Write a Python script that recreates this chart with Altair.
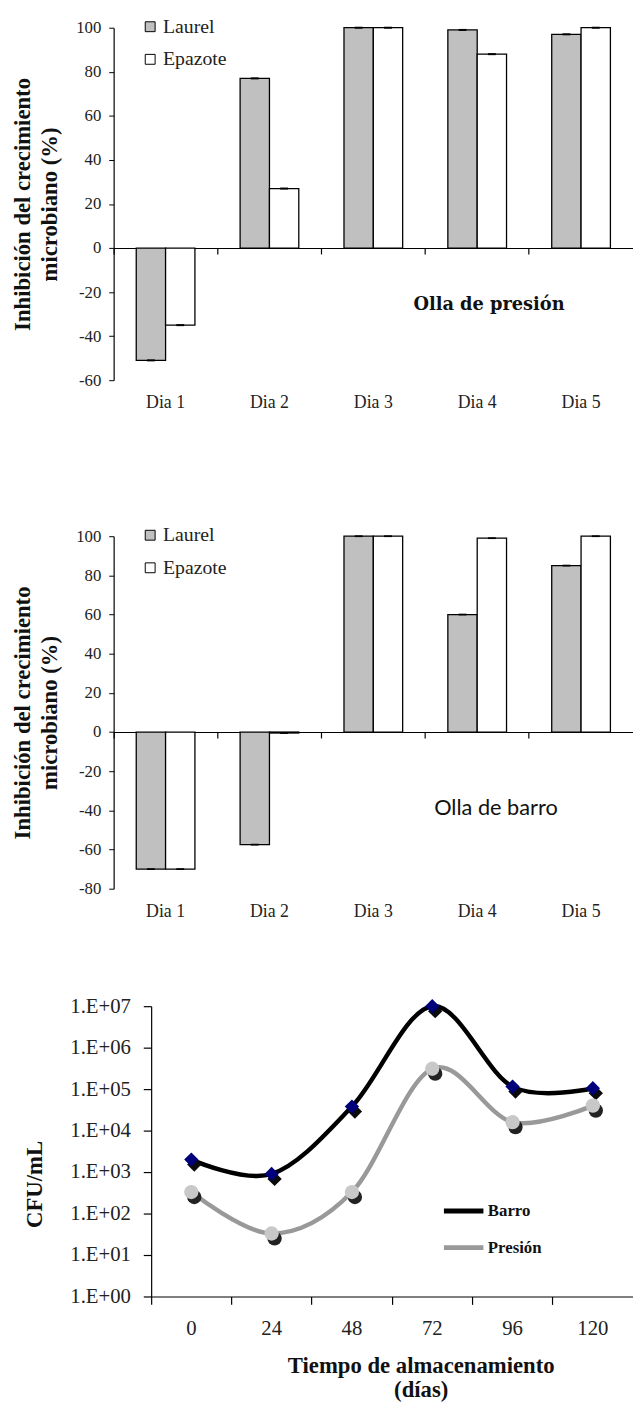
import altair as alt
import pandas as pd

# ---------------- data ----------------
days = ["Dia 1", "Dia 2", "Dia 3", "Dia 4", "Dia 5"]
series = ["Laurel", "Epazote"]
laurel_presion = [-51, 77, 100, 99, 97]
epazote_presion = [-35, 27, 100, 88, 100]
laurel_barro = [-70, -57.5, 100, 60, 85]
epazote_barro = [-70, -0.5, 100, 99, 100]

horas = ["0", "24", "48", "72", "96", "120"]
line_series = ["Barro", "Presión"]
cfu_barro = [2000, 900, 38000, 10000000, 115000, 105000]
cfu_presion = [330, 33, 330, 310000, 16000, 40000]

SERIF = "Liberation Serif"
MINUS_EXPR = "(datum.value < 0 ? '-' : '') + abs(datum.value)"


def bar_panel(laurel, epazote, ymin, note, note_value, note_font, note_size,
              note_weight, note_dx):
    df = pd.DataFrame({
        "dia": days * 2,
        "serie": [series[0]] * len(days) + [series[1]] * len(days),
        "valor": laurel + epazote,
    })
    df["lo"] = df["valor"] - 0.45
    df["hi"] = df["valor"] + 0.45
    W, H = 526, 357
    zero_off = -H * (0 - ymin) / (100 - ymin)
    xscale = alt.Scale(type="band", domain=days, paddingInner=0, paddingOuter=0)

    def xenc(axis, **kw):
        return alt.X("dia:N", scale=xscale, sort=days, axis=axis, **kw)

    xoff = alt.XOffset("serie:N", sort=series,
                       scale=alt.Scale(domain=series, paddingInner=0, paddingOuter=0.77))
    yscale = alt.Scale(domain=[ymin, 100], nice=False, zero=False)
    yvals = list(range(ymin, 101, 20))
    yaxis = alt.Axis(values=yvals, tickCount=30, labelOverlap=False,
                     labelExpr=MINUS_EXPR,
                     title=["Inhibición del crecimiento", "microbiano (%)"],
                     titleFont=SERIF, titleFontSize=23, titleFontWeight="bold",
                     titleLineHeight=28, titlePadding=14, titleColor="#111",
                     labelFont=SERIF, labelFontSize=17, labelColor="#222",
                     labelPadding=8, tickSize=5, tickColor="black",
                     domainColor="black", domainWidth=1.2, grid=False)
    label_axis = alt.Axis(orient="bottom", domain=False, ticks=False, tickSize=0,
                          labelPadding=14, labelFont=SERIF, labelFontSize=18,
                          labelColor="#222", labelAngle=0, title=None, grid=False)
    tick_axis = alt.Axis(orient="bottom", offset=zero_off, labels=False, ticks=True,
                         tickSize=6, tickColor="black", tickWidth=1.2, bandPosition=0,
                         domain=True, domainColor="black", domainWidth=1.2,
                         title=None, grid=False)

    bars = alt.Chart(df).mark_bar(stroke="black", strokeWidth=1.3).encode(
        x=xenc(label_axis),
        xOffset=xoff,
        y=alt.Y("valor:Q", scale=yscale, axis=yaxis),
        fill=alt.Fill("serie:N", sort=series,
                      scale=alt.Scale(domain=series, range=["#c0c0c0", "#ffffff"]),
                      legend=alt.Legend(orient="none", legendX=27, legendY=-11,
                                        title=None, symbolType="square",
                                        symbolSize=100, symbolStrokeColor="black",
                                        symbolStrokeWidth=1, labelFont=SERIF,
                                        labelFontSize=20, labelColor="#222",
                                        rowPadding=13, padding=0, labelOffset=3)),
    )
    caps = alt.Chart(df).mark_bar(color="black", width=8).encode(
        x=xenc(tick_axis),
        xOffset=xoff,
        y=alt.Y("lo:Q", scale=yscale),
        y2="hi:Q",
    )
    note_df = pd.DataFrame({"dia": ["Dia 4"], "valor": [note_value], "t": [note]})
    text = alt.Chart(note_df).mark_text(font=note_font, fontSize=note_size,
                                        fontWeight=note_weight, dx=note_dx,
                                        color="#111").encode(
        x=xenc(None, bandPosition=0.5),
        y=alt.Y("valor:Q", scale=yscale),
        text="t:N",
    )
    return alt.layer(bars, caps, text).resolve_axis(x="independent").properties(
        width=W, height=H)


c1 = bar_panel(laurel_presion, epazote_presion, -60, "Olla de presión", -26,
               "DejaVu Serif", 18, "bold", 12)
c2 = bar_panel(laurel_barro, epazote_barro, -80, "Olla de barro", -39,
               "Lato", 22, "normal", 19)

# ---------------- line chart ----------------
df3 = pd.DataFrame({
    "hora": horas * 2,
    "serie": [line_series[0]] * len(horas) + [line_series[1]] * len(horas),
    "cfu": cfu_barro + cfu_presion,
})
W3, H3 = 488, 294
xs3 = alt.Scale(type="band", domain=horas, paddingInner=0, paddingOuter=0)
ys3 = alt.Scale(type="log", domain=[1, 10000000], nice=False)

label_axis3 = alt.Axis(orient="bottom", domain=False, ticks=False, tickSize=0,
                       labelPadding=22, labelFont=SERIF, labelFontSize=21,
                       labelColor="#222", labelAngle=0,
                       title=["Tiempo de almacenamiento", "(días)"],
                       titleFont=SERIF, titleFontWeight="bold", titleFontSize=23,
                       titleLineHeight=24, titlePadding=16, titleColor="#111",
                       titleX=273, grid=False)
tick_axis3 = alt.Axis(orient="bottom", labels=False, ticks=True, tickSize=8,
                      tickColor="black", tickWidth=1.2, bandPosition=0, domain=True,
                      domainColor="black", domainWidth=1.2, title=None, grid=False)
yaxis3 = alt.Axis(values=[1, 10, 100, 1000, 10000, 100000, 1000000, 10000000],
                  tickCount=30,
                  labelExpr="'1.E+0' + round(log(datum.value)/LN10)",
                  labelOverlap=False,
                  labelFont=SERIF, labelFontSize=21, labelColor="#222",
                  labelPadding=13, tickSize=8, tickColor="black", tickWidth=1.2,
                  domainColor="black", domainWidth=1.2,
                  title="CFU/mL", titleFont=SERIF, titleFontSize=23,
                  titleFontWeight="bold", titleColor="#111", titlePadding=24,
                  titleY=180, grid=False)


def xenc3(axis):
    return alt.X("hora:N", scale=xs3, sort=horas, axis=axis, bandPosition=0.5)


lines = alt.Chart(df3).mark_line(strokeWidth=4.5, interpolate="cardinal").encode(
    x=xenc3(label_axis3),
    y=alt.Y("cfu:Q", scale=ys3, axis=yaxis3),
    stroke=alt.Stroke("serie:N", sort=line_series,
                      scale=alt.Scale(domain=line_series, range=["#000000", "#999999"]),
                      legend=alt.Legend(orient="none", legendX=332, legendY=185,
                                        title=None, symbolType="stroke",
                                        symbolSize=1600, symbolStrokeWidth=5,
                                        labelFont=SERIF, labelFontSize=17,
                                        labelFontWeight="bold", labelColor="#111",
                                        rowPadding=4, padding=0, labelOffset=2)),
)


def marker_layers(name, shape, fill, shadow, with_axis):
    base = alt.Chart(df3).transform_filter(alt.datum.serie == name)
    sh = base.mark_point(filled=True, opacity=1, size=210, shape=shape, color=shadow,
                         xOffset=3, yOffset=5).encode(
        x=xenc3(tick_axis3 if with_axis else None),
        y=alt.Y("cfu:Q", scale=ys3),
    )
    pt = base.mark_point(filled=True, opacity=1, size=210, shape=shape, color=fill,
                         strokeWidth=0).encode(
        x=xenc3(None),
        y=alt.Y("cfu:Q", scale=ys3),
    )
    return [sh, pt]


mk_b = marker_layers("Barro", "diamond", "#00007a", "#0a0a0a", True)
mk_p = marker_layers("Presión", "circle", "#c8c8c8", "#222222", False)

c3 = alt.layer(lines, mk_b[0], mk_p[0], mk_b[1], mk_p[1]).resolve_axis(
    x="independent").properties(width=W3, height=H3)

spacer = alt.Chart(pd.DataFrame({"s": [0]})).mark_point(opacity=0).encode(
    x=alt.value(0), y=alt.value(0)).properties(width=38, height=H3)
row3 = alt.hconcat(spacer, c3, spacing=0, bounds="flush")

top = alt.vconcat(c1, c2, spacing=115).resolve_scale(fill="independent")
chart = alt.vconcat(top, row3, spacing=76).resolve_scale(
    fill="independent", stroke="independent"
).properties(
    padding={"left": 3, "top": 0, "right": 0, "bottom": 0},
    background="white",
).configure_view(stroke=None).configure_axis(
    grid=False, labelFont=SERIF, titleFont=SERIF
).configure_legend(labelFont=SERIF)

chart.save("out.html", embed_options={"renderer": "svg", "actions": False})
